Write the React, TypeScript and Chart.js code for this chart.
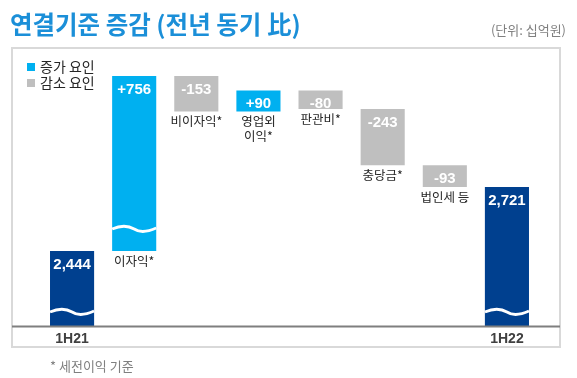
import React, { useEffect, useRef } from "react";
import { Chart, registerables } from "chart.js";

Chart.register(...registerables);

// ---- data ----
const categories: string[] = ["1H21", "이자익*", "비이자익*", "영업외\n이익*", "판관비*", "충당금*", "법인세 등", "1H22"];
const startTotal = 2444;
const changes: number[] = [756, -153, 90, -80, -243, -93];
const endTotal = 2721;
const breakBars: number[] = [0, 1, 7];

const NAVY = "#00408f";
const UP = "#00b0f0";
const DOWN = "#bfbfbf";
const FONT = "'Liberation Sans', 'Noto Sans CJK KR', sans-serif";
const KFONT = "'Noto Sans CJK KR', 'Liberation Sans', sans-serif";

function buildRanges() {
  const ranges: [number, number][] = [];
  const colors: string[] = [];
  const labels: string[] = [];
  ranges.push([0, startTotal]);
  colors.push(NAVY);
  labels.push(startTotal.toLocaleString("en-US"));
  let run = startTotal;
  changes.forEach((c) => {
    const next = run + c;
    ranges.push([run, next]);
    colors.push(c >= 0 ? UP : DOWN);
    labels.push((c >= 0 ? "+" : "-") + Math.abs(c));
    run = next;
  });
  ranges.push([0, endTotal]);
  colors.push(NAVY);
  labels.push(endTotal.toLocaleString("en-US"));
  return { ranges, colors, labels };
}

export default function App() {
  const ref = useRef<HTMLCanvasElement | null>(null);
  useEffect(() => {
    if (!ref.current) return;
    const { ranges, colors, labels } = buildRanges();
    const overlay = {
      id: "overlay",
      afterDatasetsDraw(chart: any) {
        const ctx = chart.ctx;
        const area = chart.chartArea;
        const meta = chart.getDatasetMeta(0);
        ctx.save();
        meta.data.forEach((bar: any, i: number) => {
          const p = bar.getProps(["x", "y", "base", "width"], true);
          const top = Math.min(p.y, p.base);
          const bottom = Math.min(Math.max(p.y, p.base), area.bottom);
          const L = p.x - p.width / 2;
          const R = p.x + p.width / 2;
          const w = p.width;
          if (breakBars.includes(i)) {
            const wy = bottom - (i === 1 ? 22 : 14);
            ctx.beginPath();
            ctx.moveTo(L, wy);
            ctx.bezierCurveTo(L + 0.2 * w, wy - 4, L + 0.35 * w, wy - 4, L + 0.5 * w, wy);
            ctx.bezierCurveTo(L + 0.62 * w, wy + 3.5, L + 0.8 * w, wy + 3, R, wy - 1);
            ctx.strokeStyle = "#ffffff";
            ctx.lineWidth = 3;
            ctx.stroke();
          }
          ctx.fillStyle = "#ffffff";
          ctx.font = `bold 15px ${FONT}`;
          ctx.textAlign = "center";
          ctx.textBaseline = "top";
          ctx.fillText(labels[i], p.x, top + 6);
          if (i > 0 && i < categories.length - 1) {
            ctx.fillStyle = "#262626";
            ctx.font = `12.5px ${KFONT}`;
            const lines = categories[i].split("\n");
            lines.forEach((ln, k) => {
              ctx.fillText(ln, p.x, bottom + 4 + k * 15);
            });
          } else {
            ctx.fillStyle = "#404040";
            ctx.font = `bold 14px ${FONT}`;
            ctx.textBaseline = "middle";
            ctx.fillText(categories[i], p.x, area.bottom + 13);
          }
        });
        ctx.beginPath();
        ctx.moveTo(12, area.bottom + 0.5);
        ctx.lineTo(560, area.bottom + 0.5);
        ctx.strokeStyle = "#7f7f7f";
        ctx.lineWidth = 2;
        ctx.stroke();
        ctx.restore();
      },
    };
    const chart = new Chart(ref.current, {
      type: "bar",
      data: {
        labels: categories,
        datasets: [
          {
            data: ranges as any,
            backgroundColor: colors,
            borderWidth: 0,
            barPercentage: 0.71,
            categoryPercentage: 1,
            clip: 0 as any,
          },
        ],
      },
      options: {
        responsive: false,
        animation: false,
        layout: { padding: { left: 41, right: 39, top: 76, bottom: 52 } },
        plugins: { legend: { display: false }, tooltip: { enabled: false } },
        scales: {
          x: { display: false },
          y: { display: false, min: 2120, max: 3200 },
        },
      },
      plugins: [overlay],
    });
    return () => chart.destroy();
  }, []);

  return (
    <div style={{ position: "fixed", left: 0, top: 0, width: 577, height: 378, background: "#fff", overflow: "hidden" }}>
      <div
        style={{
          position: "absolute", left: 11, top: 47, width: 550, height: 301,
          border: "2px solid #d9d9d9", boxSizing: "border-box",
        }}
      />
      <canvas ref={ref} width={577} height={378} style={{ position: "absolute", left: 0, top: 0 }} />
      <div
        style={{
          position: "absolute", left: 10, top: 8, fontFamily: KFONT, fontWeight: 700,
          fontSize: 24.5, lineHeight: "32px", color: "#1b8fd8", whiteSpace: "nowrap",
        }}
      >
        연결기준 증감 (전년 동기 比)
      </div>
      <div
        style={{
          position: "absolute", right: 11, top: 22, fontFamily: KFONT, fontSize: 13,
          lineHeight: "16px", color: "#808080", whiteSpace: "nowrap",
        }}
      >
        (단위: 십억원)
      </div>
      <div style={{ position: "absolute", left: 27, top: 63, width: 8, height: 8, background: UP }} />
      <div style={{ position: "absolute", left: 27, top: 79, width: 8, height: 8, background: DOWN }} />
      <div
        style={{
          position: "absolute", left: 40, top: 58, fontFamily: KFONT, fontSize: 14,
          lineHeight: "16px", color: "#262626", whiteSpace: "nowrap",
        }}
      >
        증가 요인<br />감소 요인
      </div>
      <div
        style={{
          position: "absolute", left: 50, top: 358, fontFamily: KFONT, fontSize: 13,
          lineHeight: "16px", color: "#7f7f7f", whiteSpace: "nowrap",
        }}
      >
        * 세전이익 기준
      </div>
    </div>
  );
}
